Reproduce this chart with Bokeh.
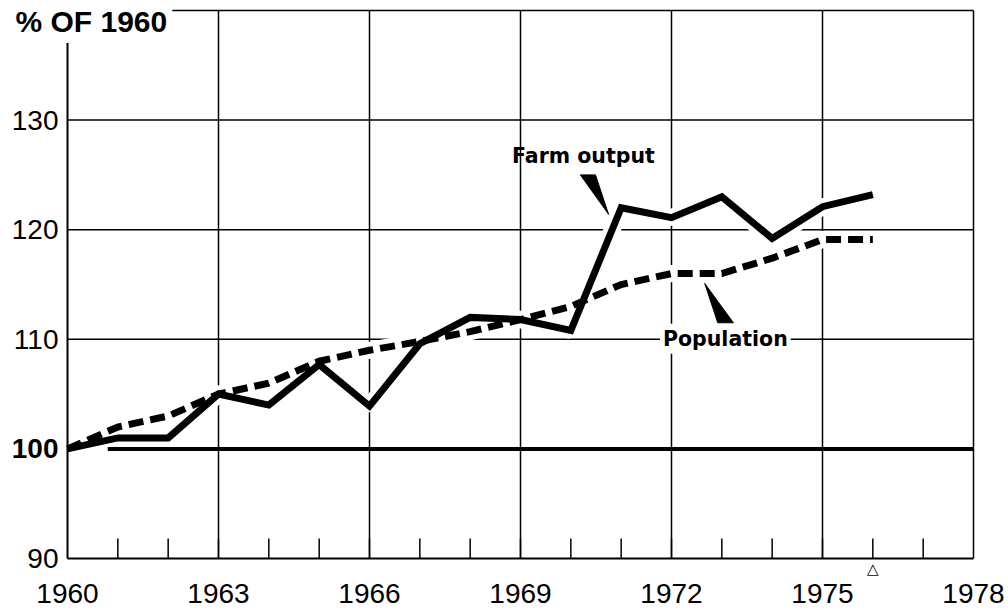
from bokeh.plotting import figure
from bokeh.models import Label, Range1d
from bokeh.core.properties import value
from bokeh.embed import file_html
from bokeh.resources import INLINE

# ---- data ----
years = list(range(1960, 1977))
farm_output = [100, 101, 101, 105, 104, 107.7, 103.9, 109.6, 112, 111.8, 110.8,
               122, 121.1, 123, 119.2, 122.1, 123.2]
population = [100, 102, 103, 105, 106, 108, 109, 109.8, 110.7, 111.8, 113,
              115, 116, 116, 117.4, 119.1, 119.1]
x_labels = [1960, 1963, 1966, 1969, 1972, 1975, 1978]
x_minor = list(range(1961, 1978))
x_grid = [1963, 1966, 1969, 1972, 1975, 1978]
y_labels = [90, 110, 120, 130]
y_bold_label = 100
y_grid = [110, 120, 130, 140]
baseline_value = 100
baseline_start = 1960.8
farm_pointer_x = [1970.19, 1970.49, 1970.75]
farm_pointer_y = [125.0, 125.0, 121.4]
pop_pointer_x = [1972.66, 1972.92, 1973.23]
pop_pointer_y = [115.1, 111.5, 111.5]
marker_year = 1976

X0, X1 = 1960, 1978
Y0, Y1 = 90, 140
FONT = "Liberation Sans"
BOLD = "DejaVu Sans"

W, H = 1008, 610
PX_X = 906 / (X1 - X0)          # pixels per year
PX_Y = 548 / (Y1 - Y0)          # pixels per unit
x_start = X0 - 67 / PX_X
x_end = X1 + 35 / PX_X
y_end = Y1 + 10 / PX_Y
y_start = Y0 - 52 / PX_Y
TICK = 20 / PX_Y

p = figure(width=W, height=H, output_backend="svg", toolbar_location=None,
           x_range=Range1d(x_start, x_end), y_range=Range1d(y_start, y_end),
           x_axis_location=None, y_axis_location=None,
           min_border_left=0, min_border_right=0, min_border_top=0,
           min_border_bottom=0)
p.outline_line_color = None
p.xgrid.visible = False
p.ygrid.visible = False
p.background_fill_color = "white"
p.border_fill_color = "white"

# grid lines
p.segment(x0=x_grid, y0=[Y0] * len(x_grid), x1=x_grid, y1=[Y1] * len(x_grid),
          line_color="black", line_width=1.5)
p.segment(x0=[X0] * len(y_grid), y0=y_grid, x1=[X1] * len(y_grid), y1=y_grid,
          line_color="black", line_width=1.5)
# year ticks (inside)
p.segment(x0=x_minor, y0=[Y0] * len(x_minor), x1=x_minor,
          y1=[Y0 + TICK] * len(x_minor), line_color="black", line_width=1.5)

# white halos
p.line(years, population, line_color="white", line_width=17)
p.line(years, farm_output, line_color="white", line_width=17)

# axes lines and baseline at 100
p.segment(x0=[X0], y0=[Y0], x1=[X0], y1=[Y1], line_color="black", line_width=2)
p.segment(x0=[X0], y0=[Y0], x1=[X1], y1=[Y0], line_color="black", line_width=2)
p.segment(x0=[baseline_start], y0=[baseline_value], x1=[X1], y1=[baseline_value],
          line_color="black", line_width=4)

# series
p.line(years, population, line_color="black", line_width=7, line_dash="15 7",
       line_cap="butt", line_join="miter")
p.line(years, farm_output, line_color="black", line_width=7, line_join="miter")

# pointers
p.patch(farm_pointer_x, farm_pointer_y, fill_color="black", line_color="black")
p.patch(pop_pointer_x, pop_pointer_y, fill_color="black", line_color="black")

# y tick labels
p.text(x=[X0] * len(y_labels), y=y_labels, text=[str(v) for v in y_labels],
       x_offset=-9, text_align="right", text_baseline="middle",
       text_font=value(FONT), text_font_size=value("28px"), text_color="black")
p.text(x=[X0], y=[y_bold_label], text=[str(y_bold_label)],
       x_offset=-9, text_align="right", text_baseline="middle",
       text_font=value(FONT), text_font_size=value("28px"), text_font_style="bold",
       text_color="black")

# x tick labels
p.text(x=x_labels, y=[Y0] * len(x_labels), text=[str(v) for v in x_labels],
       y_offset=35, text_align="center", text_baseline="middle",
       text_font=value(FONT), text_font_size=value("28px"), text_color="black")
# small triangle under 1976
p.text(x=[marker_year], y=[Y0], text=["△"], y_offset=10, text_align="center",
       text_baseline="middle", text_font=value("DejaVu Sans"),
       text_font_size=value("15px"), text_color="black")

# annotations
p.add_layout(Label(x=1970.25, y=126.7, text="Farm output", text_font=BOLD,
                   text_font_style="bold", text_font_size="20.5px", text_align="center",
                   text_baseline="middle", text_color="black"))
p.add_layout(Label(x=1973.07, y=110.05, text="Population", text_font=BOLD,
                   text_font_style="bold", text_font_size="20.5px", text_align="center",
                   text_baseline="middle", text_color="black",
                   background_fill_color="white", padding=3))
p.add_layout(Label(x=x_start + 10 / PX_X, y=y_end - 21 / PX_Y, text="% OF 1960",
                   text_font=FONT, text_font_style="bold", text_font_size="30px",
                   text_align="left", text_baseline="middle", text_color="black",
                   background_fill_color="white", padding=5))

open("out.html", "w").write(file_html(p, INLINE))
